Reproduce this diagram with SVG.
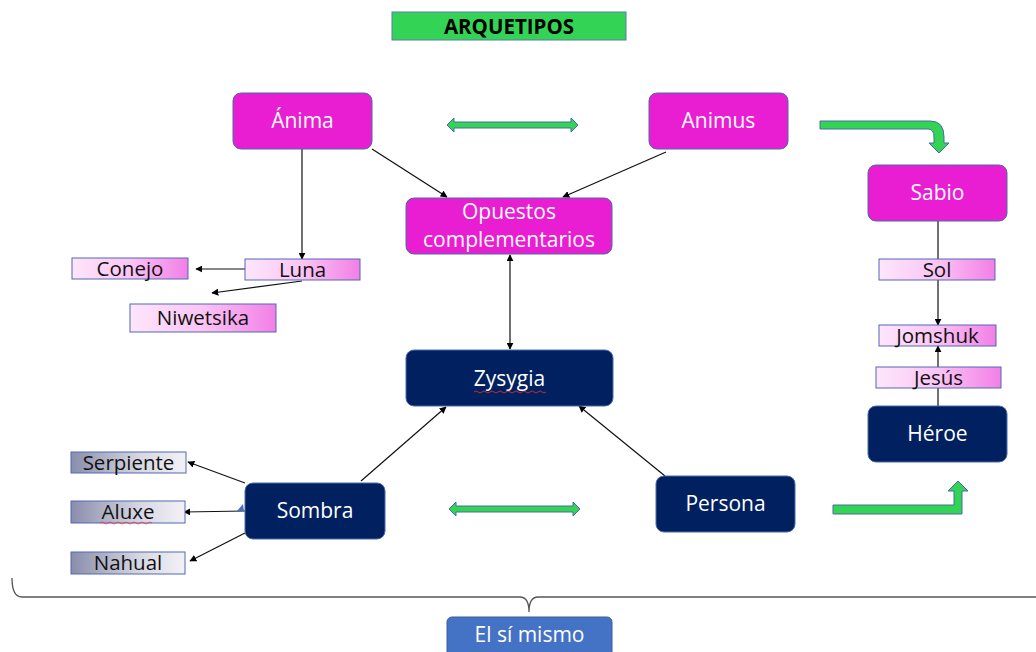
<svg xmlns="http://www.w3.org/2000/svg" width="1036" height="652" viewBox="0 0 1036 652">
<defs>
<linearGradient id="gp" x1="0" y1="0" x2="1" y2="0"><stop offset="0" stop-color="#fde6fb"/><stop offset="0.5" stop-color="#fbc4f4"/><stop offset="1" stop-color="#f27fe6"/></linearGradient>
<linearGradient id="gg" x1="0" y1="0" x2="1" y2="0"><stop offset="0" stop-color="#8a8dab"/><stop offset="0.6" stop-color="#d6d7e2"/><stop offset="1" stop-color="#f2f2f6"/></linearGradient>
<marker id="ah" viewBox="0 0 10 10" refX="9" refY="5" markerWidth="7" markerHeight="7" orient="auto-start-reverse" markerUnits="userSpaceOnUse"><path d="M0,0 L10,5 L0,10 z" fill="#000"/></marker>
</defs>
<style>
.mag{fill:#e91ed3;stroke:#4a6aa8;stroke-width:1}
.nav{fill:#002060;stroke:#4a6aa8;stroke-width:1}
.pk{fill:url(#gp);stroke:#5068b8;stroke-width:1}
.gr{fill:url(#gg);stroke:#5068b8;stroke-width:1}
.wt{font-family:"Open Sans","Liberation Sans",sans-serif;font-size:21px;fill:#fff;text-anchor:middle}
.bt{font-family:"Open Sans","Liberation Sans",sans-serif;font-size:20.5px;fill:#111;text-anchor:middle}
.ln{stroke:#111;stroke-width:1.2;fill:none}
.ga{fill:#33d455;stroke:#4a6aa8;stroke-width:1}
</style>
<rect width="1036" height="652" fill="#fff"/>
<g id="title">
<rect x="392" y="12" width="234" height="28" fill="#33d455" stroke="#5a7ab0"/>
<text x="509" y="33.5" font-family="'Open Sans','Liberation Sans',sans-serif" font-size="20.5" font-weight="bold" text-anchor="middle" fill="#000">ARQUETIPOS</text>
</g>
<g id="connectors">
<line class="ln" x1="372" y1="149" x2="447" y2="197" marker-end="url(#ah)"/>
<line class="ln" x1="666" y1="152" x2="563" y2="197" marker-end="url(#ah)"/>
<line class="ln" x1="302" y1="149" x2="302" y2="259" marker-end="url(#ah)"/>
<line class="ln" x1="245" y1="269" x2="196" y2="269" marker-end="url(#ah)"/>
<line class="ln" x1="302" y1="281" x2="212" y2="293" marker-end="url(#ah)"/>
<line class="ln" x1="510" y1="255" x2="510" y2="349" marker-start="url(#ah)" marker-end="url(#ah)"/>
<line class="ln" x1="361" y1="481" x2="446" y2="407" marker-end="url(#ah)"/>
<line class="ln" x1="665" y1="476" x2="579" y2="406" marker-end="url(#ah)"/>
<line class="ln" x1="245" y1="483" x2="188" y2="462" marker-end="url(#ah)"/>
<line class="ln" x1="245" y1="511" x2="184" y2="512" marker-end="url(#ah)"/>
<line class="ln" x1="245" y1="533" x2="190" y2="561" marker-end="url(#ah)"/>
<path d="M237,511 L243,504 L244,511 z" fill="#4472c4"/>
<line class="ln" x1="938" y1="221" x2="938" y2="259"/>
<line class="ln" x1="938" y1="280" x2="938" y2="325" marker-end="url(#ah)"/>
<line class="ln" x1="938" y1="367" x2="938" y2="346" marker-end="url(#ah)"/>
<line class="ln" x1="938" y1="388" x2="938" y2="406"/>
<path class="ga" d="M447,125 L454,118 L454,122 L571,122 L571,118 L578,125 L571,132 L571,128 L454,128 L454,132 z"/>
<path class="ga" d="M449,509 L456,502 L456,506 L573,506 L573,502 L580,509 L573,516 L573,512 L456,512 L456,516 z"/>
<path class="ga" d="M820,121 L930,121 Q944,121 944,137 L944,143 L949,143 L939,153 L929,143 L934,143 L934,137 Q934,129 928,129 L820,129 z"/>
<path class="ga" d="M833,505 L954,505 L954,491 L948,491 L958,481 L968,491 L962,491 L962,514 L833,514 z"/>
<path d="M12,578 Q12,597 22,597 L520,597 Q529,597 529,612 Q529,597 538,597 L1036,597" fill="none" stroke="#555" stroke-width="1.3"/>
</g>
<g id="anima"><rect class="mag" x="233" y="93" width="139" height="56" rx="8"/><text class="wt" x="302.5" y="128">Ánima</text></g>
<g id="animus"><rect class="mag" x="649" y="93" width="139" height="56" rx="8"/><text class="wt" x="718.5" y="128">Animus</text></g>
<g id="opuestos"><rect class="mag" x="406" y="198" width="206" height="56" rx="8"/><text class="wt" x="509" y="219">Opuestos</text><text class="wt" x="509" y="247">complementarios</text></g>
<g id="sabio"><rect class="mag" x="868" y="165" width="139" height="56" rx="8"/><text class="wt" x="937.5" y="200">Sabio</text></g>
<g id="luna"><rect class="pk" x="245" y="259" width="115" height="21"/><text class="bt" x="302.5" y="277">Luna</text></g>
<g id="conejo"><rect class="pk" x="72" y="258" width="116" height="21"/><text class="bt" x="130" y="276">Conejo</text></g>
<g id="niwetsika"><rect class="pk" x="130" y="304" width="146" height="28"/><text class="bt" x="203" y="325">Niwetsika</text></g>
<g id="zysygia"><rect class="nav" x="406" y="350" width="207" height="56" rx="8"/><text class="wt" x="509.5" y="386">Zysygia</text><path d="M474,392 q2,-2 4,0 t4,0 t4,0 t4,0 t4,0 t4,0 t4,0 t4,0 t4,0 t4,0 t4,0 t4,0 t4,0 t4,0 t4,0 t4,0 t4,0 t4,0" fill="none" stroke="#e33" stroke-width="0.8"/></g>
<g id="sombra"><rect class="nav" x="245" y="483" width="140" height="56" rx="8"/><text class="wt" x="315" y="518">Sombra</text></g>
<g id="persona"><rect class="nav" x="656" y="476" width="139" height="56" rx="8"/><text class="wt" x="725.5" y="511">Persona</text></g>
<g id="heroe"><rect class="nav" x="868" y="406" width="139" height="56" rx="8"/><text class="wt" x="937.5" y="441">Héroe</text></g>
<g id="sol"><rect class="pk" x="879" y="259" width="116" height="21"/><text class="bt" x="937" y="277">Sol</text></g>
<g id="jomshuk"><rect class="pk" x="879" y="325" width="117" height="21"/><text class="bt" x="937.5" y="343">Jomshuk</text></g>
<g id="jesus"><rect class="pk" x="876" y="367" width="125" height="21"/><text class="bt" x="938.5" y="385">Jesús</text></g>
<g id="serpiente"><rect class="gr" x="71" y="452" width="115" height="21"/><text class="bt" x="128.5" y="470">Serpiente</text></g>
<g id="aluxe"><rect class="gr" x="71" y="501" width="114" height="22"/><text class="bt" x="128" y="519">Aluxe</text><path d="M100,523 q2,-2 4,0 t4,0 t4,0 t4,0 t4,0 t4,0 t4,0 t4,0 t4,0 t4,0 t4,0 t4,0 t4,0" fill="none" stroke="#e33" stroke-width="0.8"/></g>
<g id="nahual"><rect class="gr" x="71" y="552" width="114" height="22"/><text class="bt" x="128" y="570">Nahual</text></g>
<g id="elsimismo"><rect x="447" y="617" width="165" height="40" rx="5" fill="#4472c4" stroke="#3a5fa0"/><text class="wt" x="529.5" y="642" font-size="19">El sí mismo</text></g>
</svg>
